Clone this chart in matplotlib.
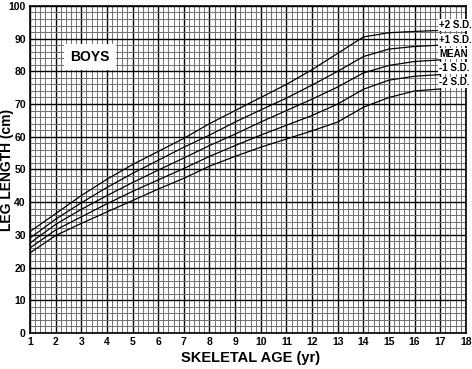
import numpy as np
import matplotlib.pyplot as plt
from matplotlib.ticker import MultipleLocator

plt.rcParams['font.family'] = ['Liberation Sans', 'DejaVu Sans']

# Skeletal age (yr)
age = [1, 2, 3, 4, 5, 6, 7, 8, 9, 10, 11, 12, 13, 14, 15, 16, 17]

# Leg length (cm) for each curve
plus2_sd = [31, 36.5, 42, 47, 51.5, 55.5, 59.5, 64, 68, 72, 76, 80.5, 85.5, 90.5, 91.8, 92.2, 92.5]
plus1_sd = [29, 34.8, 39.8, 44.5, 48.8, 52.8, 56.8, 60.5, 64.5, 68.2, 71.8, 75.8, 80, 84.5, 86.8, 87.6, 88]
mean = [27.5, 33.2, 37.8, 42, 46, 49.8, 53.5, 57.3, 60.8, 64.5, 68, 71.5, 75.2, 79.5, 81.8, 83, 83.5]
minus1_sd = [26, 31.5, 35.5, 39.5, 43.3, 46.8, 50.3, 54, 57.3, 60.5, 63.5, 66.5, 70, 74.5, 77.3, 78.5, 79]
minus2_sd = [24.5, 29.8, 33.5, 37, 40.5, 44, 47.3, 51, 54, 56.8, 59.3, 61.8, 64.5, 69, 72, 74, 74.6]

curves = [plus2_sd, plus1_sd, mean, minus1_sd, minus2_sd]
curve_labels = ['+2 S.D.', '+1 S.D.', 'MEAN', '-1 S.D.', '-2 S.D.']
label_y = [94.2, 89.6, 85.4, 81.0, 76.6]

fig = plt.figure(figsize=(4.72, 3.69), dpi=100)
ax = fig.add_axes([0.0636, 0.0976, 0.9234, 0.8864])

ax.set_xlim(1, 18)
ax.set_ylim(0, 100)

# graph paper grid
ax.xaxis.set_major_locator(MultipleLocator(1))
ax.xaxis.set_minor_locator(MultipleLocator(0.2))
ax.yaxis.set_major_locator(MultipleLocator(10))
ax.yaxis.set_minor_locator(MultipleLocator(2))
ax.grid(which='minor', color='#707070', linewidth=0.7)
ax.grid(which='major', color='black', linewidth=1.0)
ax.set_axisbelow(True)

for c in curves:
    ax.plot(age, c, color='black', linewidth=0.9)

for lab, y in zip(curve_labels, label_y):
    ax.text(16.95, y, lab, fontsize=7, fontweight='bold', va='center', ha='left',
            bbox=dict(facecolor='white', edgecolor='none', pad=0.5))

ax.text(3.35, 84.4, 'BOYS', fontsize=10, fontweight='bold', va='center', ha='center',
        bbox=dict(facecolor='white', edgecolor='none', pad=4.5))

ax.tick_params(which='both', length=0, labelsize=7.5, pad=3)
for t in ax.get_xticklabels() + ax.get_yticklabels():
    t.set_fontweight('bold')

for s in ax.spines.values():
    s.set_linewidth(1.2)

ax.set_xlabel('SKELETAL AGE (yr)', fontsize=10.5, fontweight='bold')
ax.xaxis.set_label_coords(0.505, -0.055)
ax.set_ylabel('LEG LENGTH (cm)', fontsize=10, fontweight='bold')
ax.yaxis.set_label_coords(-0.036, 0.5)

plt.savefig('out.png', dpi=100)
